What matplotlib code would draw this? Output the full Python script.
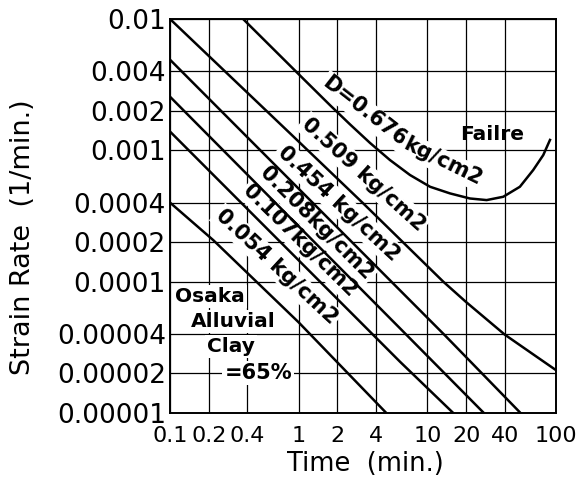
#!/usr/bin/env python3

"""Strain rate vs time for Osaka alluvial clay under several creep stresses."""

import matplotlib

matplotlib.use("Agg")
import matplotlib.pyplot as plt
from matplotlib.ticker import FixedLocator, NullLocator


X_TICKS = [0.1, 0.2, 0.4, 1, 2, 4, 10, 20, 40, 100]
X_TICK_LABELS = ["0.1", "0.2", "0.4", "1", "2", "4", "10", "20", "40", "100"]
Y_TICKS = [1e-5, 2e-5, 4e-5, 1e-4, 2e-4, 4e-4, 1e-3, 2e-3, 4e-3, 1e-2]
Y_TICK_LABELS = ["0.00001", "0.00002", "0.00004", "0.0001", "0.0002",
                 "0.0004", "0.001", "0.002", "0.004", "0.01"]

# curves, (time in min., strain rate in 1/min.)
time_0676 = [0.37, 1.0, 1.75, 2.5, 3.58, 5.12, 7.33, 10.5, 15.0, 21.4,
             28.9, 38.9, 52.4, 66.5, 79.6, 89.8]
rate_0676 = [0.01, 0.0038, 0.00221, 0.00158, 0.00114, 0.000844, 0.000649,
             0.000528, 0.00047, 0.00043, 0.000418, 0.000443, 0.000528,
             0.000708, 0.00092, 0.0012]

time_0509 = [0.1, 0.855, 3.18, 13.3, 20, 40, 70, 100]
rate_0509 = [0.01, 0.00135, 0.000394, 1.0e-4, 7.0e-5, 3.95e-5, 2.7e-5, 2.12e-5]

time_0454 = [0.1, 13.7, 53]
rate_0454 = [0.0049, 3.9e-5, 1.0e-5]

time_0208 = [0.1, 6.15, 27.5]
rate_0208 = [0.00256, 4.4e-5, 1.0e-5]

time_0107 = [0.1, 6.15, 15.9]
rate_0107 = [0.00139, 2.45e-5, 1.0e-5]

time_0054 = [0.1, 0.217, 1.0, 4.8]
rate_0054 = [0.0004, 0.000207, 4.9e-5, 1.0e-5]

FONT = "DejaVu Sans"
BOX = dict(facecolor="white", edgecolor="none", pad=1.5)


def main() -> None:
    fig = plt.figure(figsize=(5.81, 4.87), dpi=100)
    ax = fig.add_axes([170 / 581, 1 - 413 / 487, 386 / 581, 394 / 487])

    ax.set_xscale("log")
    ax.set_yscale("log")
    ax.set_xlim(0.1, 100)
    ax.set_ylim(1e-5, 1e-2)

    ax.xaxis.set_major_locator(FixedLocator(X_TICKS))
    ax.yaxis.set_major_locator(FixedLocator(Y_TICKS))
    ax.xaxis.set_minor_locator(NullLocator())
    ax.yaxis.set_minor_locator(NullLocator())
    ax.set_xticklabels(X_TICK_LABELS, fontsize=16, family=FONT)
    ax.set_yticklabels(Y_TICK_LABELS, fontsize=19, family=FONT)
    ax.tick_params(axis="both", length=0)
    ax.tick_params(axis="x", pad=9)
    ax.tick_params(axis="y", pad=3)

    ax.set_axisbelow(True)
    ax.grid(True, color="black", linewidth=0.9)
    for spine in ax.spines.values():
        spine.set_linewidth(1.4)

    curves = [
        (time_0676, rate_0676),
        (time_0509, rate_0509),
        (time_0454, rate_0454),
        (time_0208, rate_0208),
        (time_0107, rate_0107),
        (time_0054, rate_0054),
    ]
    for times, rates in curves:
        ax.plot(times, rates, color="black", linewidth=1.8, zorder=4,
                solid_joinstyle="round")

    # labels along the lines, (axes fraction x, y, angle)
    line_labels = [
        ("D=0.676", 0.503, 0.765, -38),
        ("kg/cm2", 0.707, 0.637, -26),
        ("0.509 kg/cm2", 0.501, 0.606, -42),
        ("0.454 kg/cm2", 0.436, 0.532, -43),
        ("0.208kg/cm2", 0.380, 0.481, -45),
        ("0.107kg/cm2", 0.337, 0.437, -44.5),
        ("0.054 kg/cm2", 0.276, 0.371, -43),
    ]
    for text, fx, fy, angle in line_labels:
        ax.text(fx, fy, text, transform=ax.transAxes, rotation=angle,
                rotation_mode="anchor", ha="center", va="center",
                fontsize=15, fontweight="bold", family=FONT, bbox=BOX, zorder=3)

    ax.text(0.835, 0.706, "Failre", transform=ax.transAxes, ha="center", va="center",
            fontsize=14.5, fontweight="bold", family=FONT, zorder=3)

    ax.text(0.013, 0.295, "Osaka", transform=ax.transAxes, ha="left", va="center",
            fontsize=14.5, fontweight="bold", family=FONT, bbox=BOX, zorder=3)
    ax.text(0.163, 0.232, "Alluvial", transform=ax.transAxes, ha="center", va="center",
            fontsize=14.5, fontweight="bold", family=FONT, bbox=BOX, zorder=3)
    ax.text(0.158, 0.168, "Clay", transform=ax.transAxes, ha="center", va="center",
            fontsize=14.5, fontweight="bold", family=FONT, bbox=BOX, zorder=3)
    ax.text(0.229, 0.102, "=65%", transform=ax.transAxes, ha="center", va="center",
            fontsize=15, fontweight="bold", family=FONT, bbox=BOX, zorder=3)

    fig.text(23 / 581, 1 - 237 / 487, "Strain Rate  (1/min.)", rotation=90,
             ha="center", va="center", fontsize=19.5, family=FONT)
    fig.text(365 / 581, 1 - 464 / 487, "Time  (min.)",
             ha="center", va="center", fontsize=18.5, family=FONT)

    fig.savefig("out.png", dpi=100)
    plt.close(fig)


if __name__ == "__main__":
    main()
